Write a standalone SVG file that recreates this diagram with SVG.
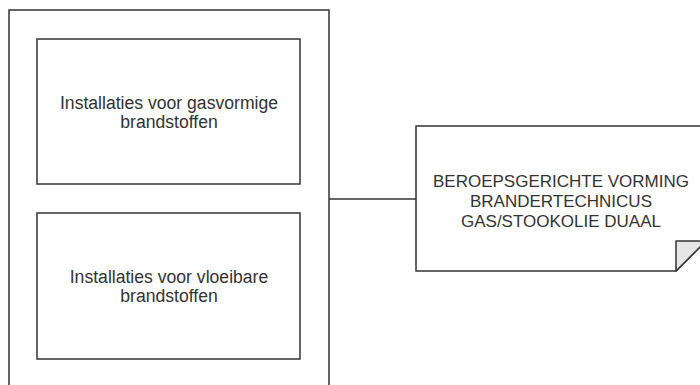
<svg xmlns="http://www.w3.org/2000/svg" width="700" height="385" viewBox="0 0 700 385">
<style>
.box{fill:#fff;stroke:#333;stroke-width:1.5}
.lbl{font-family:"Liberation Sans",Arial,sans-serif;font-size:17px;fill:#333;text-anchor:middle}
.big{font-size:17.6px}
.edge{fill:none;stroke:#333;stroke-width:1.5}
</style>
<rect width="700" height="385" fill="#fff"/>
<g id="container">
<rect class="box" x="9" y="10" width="320" height="390"/>
</g>
<g id="gas">
<rect class="box" x="37" y="39" width="263" height="145"/>
<text class="lbl big" x="169" y="109">Installaties voor gasvormige</text>
<text class="lbl big" x="169" y="128">brandstoffen</text>
</g>
<g id="vloeibaar">
<rect class="box" x="37" y="213" width="263" height="146"/>
<text class="lbl big" x="169" y="283">Installaties voor vloeibare</text>
<text class="lbl big" x="169" y="302">brandstoffen</text>
</g>
<g id="connectors">
<path class="edge" d="M329 199 H416"/>
</g>
<g id="note">
<path class="box" d="M416 126 H706 V241 L676 271 H416 Z"/>
<path d="M676 271 V241 H706 Z" fill="#e6e6e6" stroke="#333" stroke-width="1.5" stroke-linejoin="round"/>
<text class="lbl" x="561" y="187">BEROEPSGERICHTE VORMING</text>
<text class="lbl" x="561" y="207">BRANDERTECHNICUS</text>
<text class="lbl" x="561" y="227">GAS/STOOKOLIE DUAAL</text>
</g>
</svg>
